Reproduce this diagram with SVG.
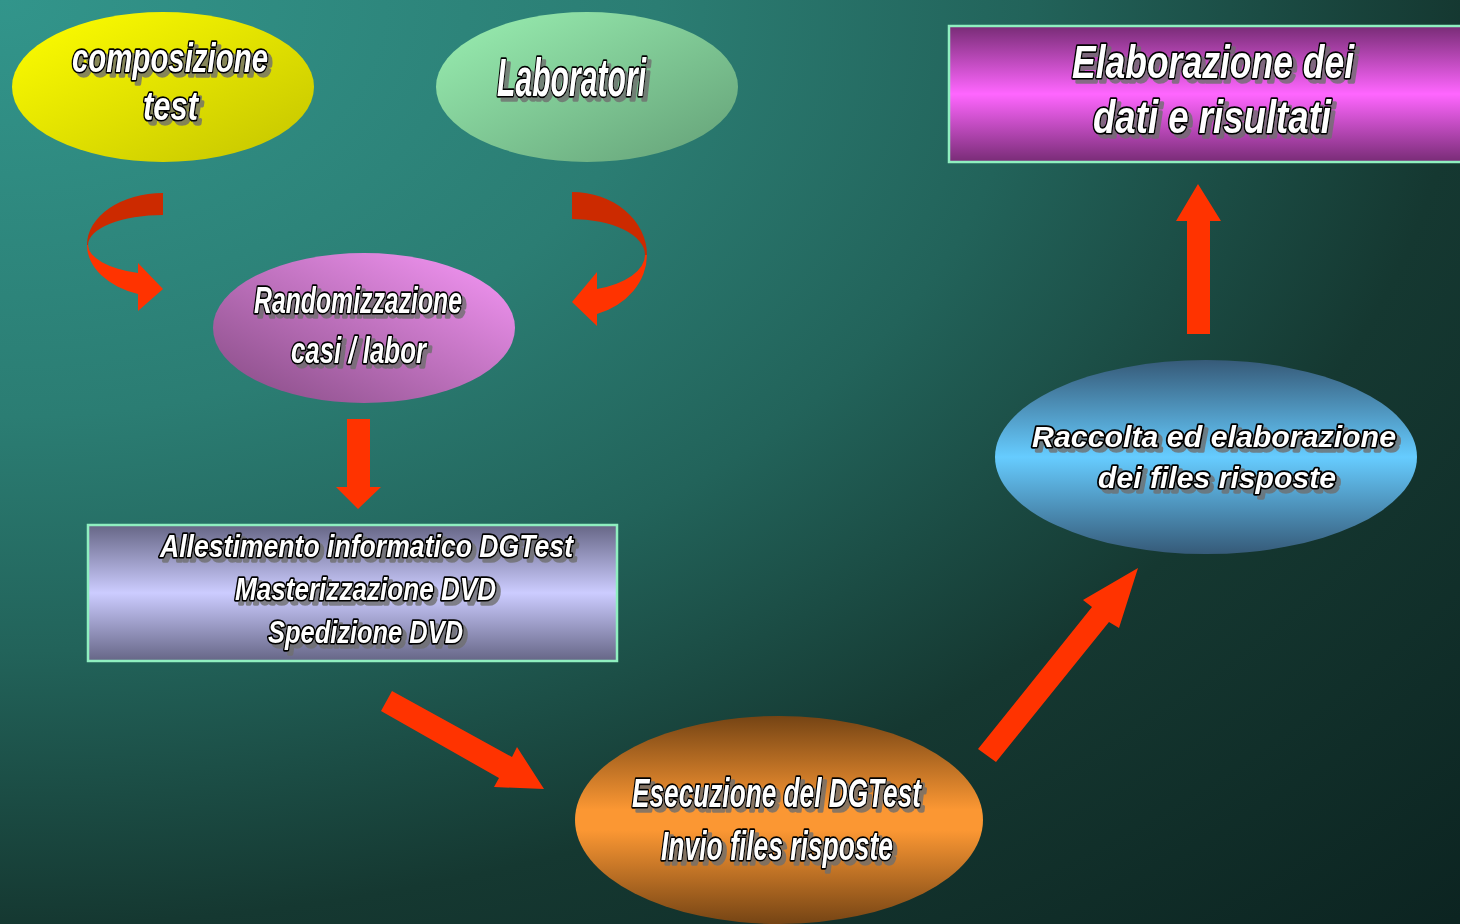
<svg xmlns="http://www.w3.org/2000/svg" width="1460" height="924" viewBox="0 0 1460 924">
<defs>
<style>
.t{font-family:"Liberation Sans",Arial,sans-serif;font-weight:bold;font-style:italic;fill:#ffffff;stroke:#000000;stroke-width:3.6;paint-order:stroke;stroke-linejoin:round;filter:url(#shadow)}
.frame{stroke:#8fefc0;stroke-width:2.5}
.arr{fill:#ff3300}
.arrd{fill:#cc2a00}
</style>
<filter id="shadow" x="-10%" y="-30%" width="125%" height="170%">
<feFlood flood-color="#6e6e6e" flood-opacity="0.8" result="c"/>
<feComposite in="c" in2="SourceAlpha" operator="in" result="s"/>
<feOffset in="s" dx="4" dy="4" result="o"/>
<feMerge><feMergeNode in="o"/><feMergeNode in="SourceGraphic"/></feMerge>
</filter>
<radialGradient id="bg" cx="0" cy="0" r="1.41" gradientUnits="objectBoundingBox">
<stop offset="0" stop-color="#32958b"/>
<stop offset="0.32" stop-color="#2b7d73"/>
<stop offset="0.5" stop-color="#22635a"/>
<stop offset="0.71" stop-color="#153831"/>
<stop offset="1" stop-color="#0c2421"/>
</radialGradient>
<linearGradient id="gY" x1="0" y1="0" x2="1" y2="1">
<stop offset="0" stop-color="#ffff00"/>
<stop offset="1" stop-color="#c4c400"/>
</linearGradient>
<linearGradient id="gG" x1="0" y1="0" x2="1" y2="1">
<stop offset="0" stop-color="#9af0b2"/>
<stop offset="1" stop-color="#64a077"/>
</linearGradient>
<linearGradient id="gP" x1="1" y1="0" x2="0" y2="1">
<stop offset="0" stop-color="#f898f8"/>
<stop offset="1" stop-color="#844a82"/>
</linearGradient>
<linearGradient id="gL" x1="0" y1="0" x2="0" y2="1">
<stop offset="0" stop-color="#666686"/>
<stop offset="0.5" stop-color="#ccccff"/>
<stop offset="1" stop-color="#666686"/>
</linearGradient>
<linearGradient id="gO" x1="0" y1="0" x2="0" y2="1">
<stop offset="0" stop-color="#754414"/>
<stop offset="0.45" stop-color="#fb9733"/>
<stop offset="0.55" stop-color="#fb9733"/>
<stop offset="1" stop-color="#754414"/>
</linearGradient>
<linearGradient id="gB" x1="0" y1="0" x2="0" y2="1">
<stop offset="0" stop-color="#365a78"/>
<stop offset="0.5" stop-color="#66ccff"/>
<stop offset="1" stop-color="#365a78"/>
</linearGradient>
<linearGradient id="gM" x1="0" y1="0" x2="0" y2="1">
<stop offset="0" stop-color="#782c76"/>
<stop offset="0.5" stop-color="#ff66ff"/>
<stop offset="1" stop-color="#782c76"/>
</linearGradient>
</defs>

<rect x="0" y="0" width="1460" height="924" fill="url(#bg)"/>

<g id="connectors">
<path class="arrd" d="M163,193 A76,52 0 0 0 87,245 L88,245 A75,30 0 0 1 163,215 Z"/>
<path class="arr" d="M87,245 A76,52 0 0 0 138,294 L138,311 L163,289 L138,263 L138,273 A75,30 0 0 1 88,245 Z"/>
<path class="arrd" d="M572,192 A75,63 0 0 1 647,255 L645,255 A73,36 0 0 0 572,219 Z"/>
<path class="arr" d="M647,255 A75,63 0 0 1 597,314 L597,326 L572,302 L597,272 L597,289 A73,36 0 0 0 645,255 Z"/>
<polygon class="arr" points="347,419 370,419 370,487 381,487 358,509 336,487 347,487"/>
<polygon class="arr" points="392,691 512,757 517,747 544,789 494,787 499,778 381,711"/>
<polygon class="arr" points="978,749 1092,607 1083,600 1138,568 1119,628 1109,622 996,762"/>
<polygon class="arr" points="1187,334 1187,221 1176,221 1198,184 1221,221 1210,221 1210,334"/>
</g>

<g id="node-composizione">
<ellipse cx="163" cy="87" rx="151" ry="75" fill="url(#gY)"/>
<text class="t" font-size="41" x="72" y="72" textLength="196" lengthAdjust="spacingAndGlyphs">composizione</text>
<text class="t" font-size="41" x="143" y="120" textLength="55" lengthAdjust="spacingAndGlyphs">test</text>
</g>

<g id="node-laboratori">
<ellipse cx="587" cy="87" rx="151" ry="75" fill="url(#gG)"/>
<text class="t" font-size="53" x="497" y="96" textLength="149" lengthAdjust="spacingAndGlyphs">Laboratori</text>
</g>

<g id="node-randomizzazione">
<ellipse cx="364" cy="328" rx="151" ry="75" fill="url(#gP)"/>
<text class="t" font-size="36" x="254" y="313" textLength="208" lengthAdjust="spacingAndGlyphs">Randomizzazione</text>
<text class="t" font-size="36" x="291" y="363" textLength="135" lengthAdjust="spacingAndGlyphs">casi / labor</text>
</g>

<g id="node-allestimento">
<rect class="frame" x="88" y="525" width="529" height="136" fill="url(#gL)"/>
<text class="t" font-size="32" x="160" y="557" textLength="413" lengthAdjust="spacingAndGlyphs">Allestimento informatico DGTest</text>
<text class="t" font-size="32" x="235" y="600" textLength="261" lengthAdjust="spacingAndGlyphs">Masterizzazione DVD</text>
<text class="t" font-size="32" x="268" y="643" textLength="195" lengthAdjust="spacingAndGlyphs">Spedizione DVD</text>
</g>

<g id="node-esecuzione">
<ellipse cx="779" cy="820" rx="204" ry="104" fill="url(#gO)"/>
<text class="t" font-size="40" x="632" y="807" textLength="289" lengthAdjust="spacingAndGlyphs">Esecuzione del DGTest</text>
<text class="t" font-size="40" x="661" y="860" textLength="232" lengthAdjust="spacingAndGlyphs">Invio files risposte</text>
</g>

<g id="node-raccolta">
<ellipse cx="1206" cy="457" rx="211" ry="97" fill="url(#gB)"/>
<text class="t" font-size="30" x="1032" y="447" textLength="364" lengthAdjust="spacingAndGlyphs">Raccolta ed elaborazione</text>
<text class="t" font-size="30" x="1098" y="488" textLength="238" lengthAdjust="spacingAndGlyphs">dei files risposte</text>
</g>

<g id="node-elaborazione">
<rect class="frame" x="949" y="26" width="530" height="136" fill="url(#gM)"/>
<text class="t" font-size="46" x="1072" y="78" textLength="282" lengthAdjust="spacingAndGlyphs">Elaborazione dei</text>
<text class="t" font-size="46" x="1093" y="133" textLength="238" lengthAdjust="spacingAndGlyphs">dati e risultati</text>
</g>
</svg>
